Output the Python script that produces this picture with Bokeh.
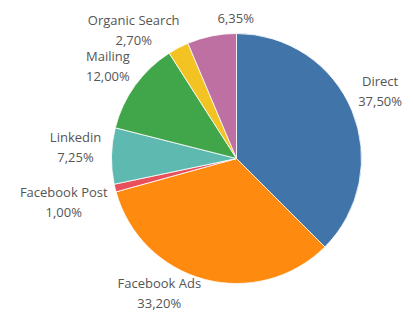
import math
from bokeh.plotting import figure
from bokeh.models import Range1d, ColumnDataSource
from bokeh.core.properties import value
from bokeh.embed import file_html
from bokeh.resources import INLINE

# ---- data ----
categories = ["Direct", "Facebook Ads", "Facebook Post", "Linkedin", "Mailing", "Organic Search", ""]
shares = [37.50, 33.20, 1.00, 7.25, 12.00, 2.70, 6.35]
colors = ["#4174A8", "#FF8A10", "#E8505C", "#5EB9B1", "#41A54A", "#F2C322", "#BE70A2"]

# ---- layout/style (screen pixel units) ----
W, H = 405, 311
CX, CY, R = 236, 158, 125
LABEL_R = 150
# per-label nudges (dx, dy in px) relative to the angle-based anchor
nudges = [(5, -10), (-39, -11), (-27, 8.5), (-11, -8), (-7, -5), (-33, 4), (29, 7)]
LINE = 20

total = sum(shares)
starts, ends, mids = [], [], []
cum = 0.0
for s in shares:
    a0 = math.pi / 2 - 2 * math.pi * cum / total
    cum += s
    a1 = math.pi / 2 - 2 * math.pi * cum / total
    starts.append(a0)
    ends.append(a1)
    mids.append((a0 + a1) / 2)

p = figure(width=W, height=H, output_backend="svg", toolbar_location=None,
           x_range=Range1d(0, W), y_range=Range1d(-H, 0),
           min_border=0)
p.axis.visible = False
p.grid.visible = False
p.outline_line_color = None
p.background_fill_color = "white"
p.border_fill_color = "white"

src = ColumnDataSource(dict(start=starts, end=ends, color=colors))
p.wedge(x=CX, y=-CY, radius=R, start_angle="start", end_angle="end",
        direction="clock", fill_color="color", line_color="white", line_width=0.8,
        source=src)

nx, ny, px_, py_, names, pcts = [], [], [], [], [], []
for cat, s, m, (dx, dy) in zip(categories, shares, mids, nudges):
    bx = CX + LABEL_R * math.cos(m) + dx
    by = CY - LABEL_R * math.sin(m) + dy
    pct = f"{s:.2f}%".replace(".", ",")
    if cat:
        nx.append(bx); ny.append(-(by - LINE / 2)); names.append(cat)
        px_.append(bx); py_.append(-(by + LINE / 2)); pcts.append(pct)
    else:
        px_.append(bx); py_.append(-by); pcts.append(pct)

common = dict(text_font=value("Open Sans"), text_font_size="13px", text_color="#555555",
              text_align="center", text_baseline="middle")
p.text(x=nx, y=ny, text=names, **common)
p.text(x=px_, y=py_, text=pcts, **common)

open("out.html", "w").write(file_html(p, INLINE))
